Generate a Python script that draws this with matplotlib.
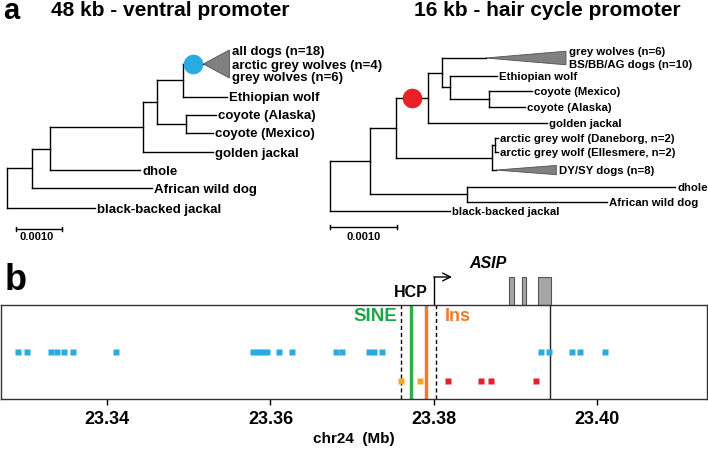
import matplotlib.pyplot as plt
from matplotlib.patches import Polygon

plt.rcParams['font.family'] = ['Liberation Sans', 'DejaVu Sans']
plt.rcParams['font.weight'] = 'bold'
plt.rcParams['axes.labelweight'] = 'bold'

# ---- tree a (left): 48 kb ventral promoter, branch lengths in 0.001 subst/site
left_child = ['n1', 'black-backed jackal', 'n2', 'African wild dog', 'n3', 'dhole',
              'n4', 'golden jackal', 'n5', 'ncoy', 'dogs', 'Ethiopian wolf',
              'coyote (Alaska)', 'coyote (Mexico)']
left_parent = ['root', 'root', 'n1', 'n1', 'n2', 'n2', 'n3', 'n3', 'n4', 'n4',
               'n5', 'n5', 'ncoy', 'ncoy']
left_len = [0.54, 1.91, 0.39, 2.61, 2.02, 1.96, 0.30, 1.52, 0.57, 0.65,
            0.45, 0.97, 0.65, 0.57]
left_rows = {'dogs': 0, 'Ethiopian wolf': 1.83, 'coyote (Alaska)': 2.83,
             'coyote (Mexico)': 3.83, 'golden jackal': 4.89, 'dhole': 5.89,
             'African wild dog': 6.89, 'black-backed jackal': 8.0}
left_clades = {'dogs': (0.565, 0.78, ['all dogs (n=18)', 'arctic grey wolves (n=4)',
                                      'grey wolves (n=6)'])}

# ---- tree a (right): 16 kb hair cycle promoter
right_child = ['r1', 'black-backed jackal', 'r2', 'rwild', 'dhole', 'African wild dog',
               'r3', 'rarc', 'r4', 'golden jackal', 'gw', 'r5', 'Ethiopian wolf', 'rcoy',
               'coyote (Mexico)', 'coyote (Alaska)', 'rarc2', 'dysy',
               'arctic grey wolf (Daneborg, n=2)', 'arctic grey wolf (Ellesmere, n=2)']
right_parent = ['root', 'root', 'r1', 'r1', 'rwild', 'rwild', 'r2', 'r2', 'r3', 'r3',
                'r4', 'r4', 'r5', 'r5', 'rcoy', 'rcoy', 'rarc', 'rarc', 'rarc2', 'rarc2']
right_len = [0.597, 1.79, 0.388, 1.448, 3.105, 2.089, 0.478, 1.433, 0.209, 1.777,
             0.65, 0.118, 0.70, 0.583, 0.642, 0.537, 0.045, 0.06, 0.044, 0.044]
right_rows = {'gw': 0, 'Ethiopian wolf': 1.16, 'coyote (Mexico)': 2.13,
              'coyote (Alaska)': 3.16, 'golden jackal': 4.19,
              'arctic grey wolf (Daneborg, n=2)': 5.16,
              'arctic grey wolf (Ellesmere, n=2)': 6.06, 'dysy': 7.23,
              'dhole': 8.32, 'African wild dog': 9.29, 'black-backed jackal': 9.87}
right_clades = {'gw': (1.2, 0.44, ['grey wolves (n=6)', 'BS/BB/AG dogs (n=10)']),
                'dysy': (0.90, 0.3, ['DY/SY dogs (n=8)'])}

# ---- panel b: chr24 track (Mb)
blue_pos = [23.32915, 23.33021, 23.33309, 23.33394, 23.33480, 23.33590, 23.34108,
            23.35786, 23.35847, 23.35896, 23.35957, 23.36110, 23.36257, 23.36801,
            23.36875, 23.37211, 23.37272, 23.37358, 23.39303, 23.39407, 23.39694,
            23.39780, 23.40086]
orange_pos = [23.37596, 23.37829]
red_pos = [23.38171, 23.38575, 23.38697, 23.39248]
hcp_bounds = [23.37596, 23.38024]
sine_pos = 23.37715
ins_pos = 23.37902
tss = 23.38
gene_end = 23.39419
exon_start = [23.38917, 23.39076, 23.39272]
exon_width = [0.00061, 0.00049, 0.00159]
ticks = [23.34, 23.36, 23.38, 23.40]

W, H = 708, 451
fig = plt.figure(figsize=(W / 100, H / 100), dpi=100)


def px_axes(x0, y0, x1, y1):
    return fig.add_axes([x0 / W, 1 - y1 / H, (x1 - x0) / W, (y1 - y0) / H])


def draw_tree(ax, child, parent, length, rows, clades, fs, line_step, circle=None):
    xs = {'root': 0.0}
    for c, p, l in zip(child, parent, length):
        xs[c] = xs[p] + l
    kids = {}
    for c, p in zip(child, parent):
        kids.setdefault(p, []).append(c)

    def gety(n):
        if n in rows:
            return rows[n]
        ys = [gety(k) for k in kids[n]]
        return (min(ys) + max(ys)) / 2
    ys = {n: gety(n) for n in xs}
    for c, p in zip(child, parent):
        ax.plot([xs[p], xs[c]], [ys[c], ys[c]], color='k', lw=1)
    for p, ks in kids.items():
        kys = [ys[k] for k in ks]
        ax.plot([xs[p], xs[p]], [min(kys), max(kys)], color='k', lw=1)
    for n in rows:
        if n in clades:
            depth, h, labels = clades[n]
            ax.add_patch(Polygon([(xs[n], ys[n]), (xs[n] + depth, ys[n] - h),
                                  (xs[n] + depth, ys[n] + h)],
                                 closed=True, fc='#808080', ec='#505050', lw=0.6))
            k = len(labels)
            for i, lab in enumerate(labels):
                yy = ys[n] + (i - (k - 1) / 2) * line_step
                ax.annotate(lab, (xs[n] + depth, yy), xytext=(2, 0),
                            textcoords='offset points', va='center_baseline',
                            fontsize=fs)
        else:
            ax.annotate(n, (xs[n], ys[n]), xytext=(1.5, 0),
                        textcoords='offset points', va='center_baseline', fontsize=fs)
    if circle:
        a, b, col = circle
        ax.scatter([(xs[a] + xs[b]) / 2], [ys[b]], s=200, color=col,
                   zorder=5, linewidths=0)
    ax.axis('off')


# left tree
axl = px_axes(0, 30, 340, 245)
axl.set_xlim(-7 / 46, 333 / 46)
axl.set_ylim((245 - 64) / 18, (30 - 64) / 18)
draw_tree(axl, left_child, left_parent, left_len, left_rows, left_clades, 9.5,
          13 / 18, circle=('n5', 'dogs', '#29abe2'))
axl.plot([0.2, 1.2], [9.17, 9.17], color='k', lw=1)
axl.plot([0.2, 0.2], [9.05, 9.29], color='k', lw=1)
axl.plot([1.2, 1.2], [9.05, 9.29], color='k', lw=1)
axl.text(0.65, 9.62, '0.0010', ha='center', va='center', fontsize=8)

# right tree
axr = px_axes(320, 30, 708, 245)
axr.set_xlim(-10 / 67, 378 / 67)
axr.set_ylim((245 - 58) / 15.5, (30 - 58) / 15.5)
draw_tree(axr, right_child, right_parent, right_len, right_rows, right_clades, 8.2,
          13 / 15.5, circle=('r2', 'r3', '#e8202a'))
axr.plot([0, 1.0], [10.9, 10.9], color='k', lw=1)
axr.plot([0, 0], [10.76, 11.04], color='k', lw=1)
axr.plot([1.0, 1.0], [10.76, 11.04], color='k', lw=1)
axr.text(0.5, 11.55, '0.0010', ha='center', va='center', fontsize=8)

fig.text(3 / W, 1 - 19 / H, 'a', fontsize=21, va='baseline', ha='left')
fig.text(170 / W, 1 - 11 / H, '48 kb - ventral promoter', fontsize=15,
         ha='center', va='center')
fig.text(547 / W, 1 - 11 / H, '16 kb - hair cycle promoter', fontsize=15,
         ha='center', va='center')
fig.text(5 / W, 1 - 290 / H, 'b', fontsize=26, va='baseline', ha='left')

# track
ax = px_axes(1, 305, 707, 399)
ax.set_xlim(23.34 - 106 / 8175, 23.34 + 600 / 8175)
ax.set_ylim(-0.632, 2.667)
top = 2.667
for x in hcp_bounds:
    ax.axvline(x, color='k', lw=1, ls=(0, (3, 2)))
ax.axvline(sine_pos, color='#2bb04a', lw=2.5)
ax.axvline(ins_pos, color='#f07b2b', lw=2.5)
ax.axvline(gene_end, color='#222222', lw=1)
ax.plot(blue_pos, [1] * len(blue_pos), 's', ms=4.3, color='#29abe2', mec='none')
ax.plot(orange_pos, [0] * len(orange_pos), 's', ms=4.3, color='#f5a623', mec='none')
ax.plot(red_pos, [0] * len(red_pos), 's', ms=4.3, color='#e3202c', mec='none')
ax.bar(exon_start, [0.98] * 3, width=exon_width, bottom=top, align='edge',
       color='#a6a6a6', edgecolor='#555555', lw=0.8, clip_on=False)
ax.plot([tss, tss], [top, 3.65], color='k', lw=1, clip_on=False)
ax.annotate('', xy=(23.3822, 3.65), xytext=(tss - 0.00003, 3.65),
            arrowprops=dict(arrowstyle='->', lw=1, color='k',
                            shrinkA=0, shrinkB=0, mutation_scale=14),
            annotation_clip=False)
ax.text(23.3866, 4.14, 'ASIP', style='italic', fontsize=11.5, ha='center',
        va='center', clip_on=False)
ax.text(23.3772, 3.09, 'HCP', fontsize=11.5, ha='center', va='center', clip_on=False)
ax.text(23.37553, 2.28, 'SINE', color='#1fa64a', fontsize=13.5, ha='right', va='center')
ax.text(23.38135, 2.28, 'Ins', color='#f07b2b', fontsize=13, ha='left', va='center')
ax.set_xticks(ticks)
ax.set_xticklabels(['%.2f' % t for t in ticks])
ax.set_yticks([])
ax.tick_params(axis='x', length=4.5, width=1, labelsize=13, pad=4)
ax.set_xlabel('chr24  (Mb)', fontsize=11, labelpad=3)
for s in ax.spines.values():
    s.set_color('#333333')
    s.set_linewidth(1)

fig.savefig('out.png', dpi=100)
